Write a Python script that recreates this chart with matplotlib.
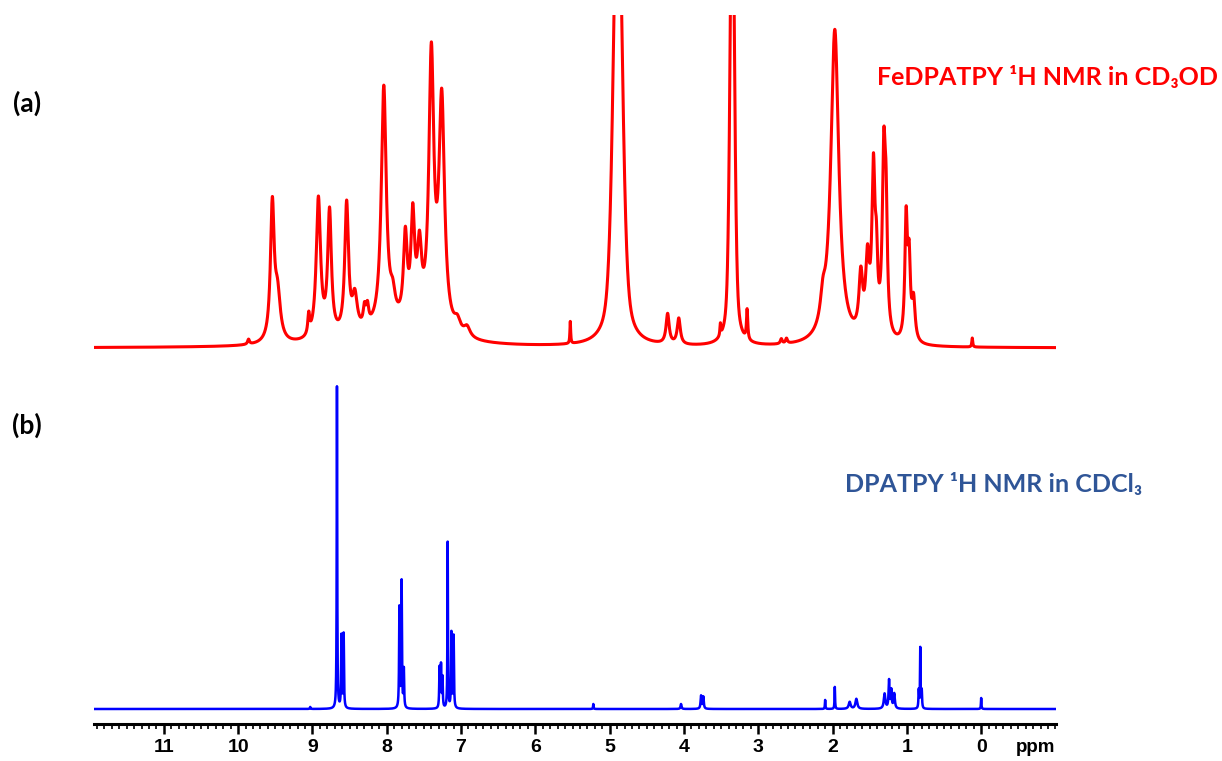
import numpy as np
import matplotlib
matplotlib.use("Agg")
import matplotlib.pyplot as plt
from matplotlib.ticker import MultipleLocator

# FeDPATPY in CD3OD: peak centre (ppm), height, full width (ppm), lorentz fraction
fe_ppm = [9.86, 9.54, 9.47, 9.05, 8.92, 8.77, 8.54, 8.43, 8.30, 8.26, 8.04, 7.92,
          7.75, 7.65, 7.56, 7.40, 7.26, 7.05, 6.92, 7.90, 5.53, 4.89, 4.22, 4.07,
          3.51, 3.35, 3.15, 2.69, 2.62, 2.13, 1.97, 1.62, 1.53, 1.45, 1.41, 1.31,
          1.28, 1.01, 0.97, 0.91, 0.12]
fe_height = [5, 135, 45, 20, 140, 124, 130, 35, 18, 18, 240, 22,
             84, 102, 70, 268, 228, 12, 10, 16, 22, 500, 30, 26,
             12, 500, 30, 5, 5, 25, 315, 58, 72, 160, 60, 176,
             100, 120, 75, 40, 9]
fe_width = [0.03, 0.06, 0.09, 0.03, 0.07, 0.06, 0.06, 0.08, 0.04, 0.04, 0.08, 0.08,
            0.06, 0.06, 0.07, 0.08, 0.09, 0.10, 0.10, 1.2, 0.012, 0.14, 0.05, 0.05,
            0.015, 0.07, 0.02, 0.03, 0.03, 0.08, 0.13, 0.06, 0.06, 0.05, 0.04, 0.05,
            0.04, 0.04, 0.04, 0.05, 0.015]
fe_lorentz = [1, 1, 1, 1, 1, 1, 1, 1, 1, 1, 1, 1,
              1, 1, 1, 1, 1, 1, 1, 1, 1, 0.5, 1, 1,
              1, 0.5, 1, 1, 1, 1, 1, 1, 1, 1, 1, 1,
              1, 1, 1, 1, 1]

# DPATPY in CDCl3
dp_ppm = [9.03, 8.67, 8.61, 8.58, 7.83, 7.80, 7.77, 7.29, 7.27, 7.25, 7.18, 7.13,
          7.10, 5.22, 4.04, 3.77, 3.74, 2.10, 1.97, 1.77, 1.68, 1.30, 1.24, 1.21,
          1.17, 0.84, 0.82, 0.80, 0.00]
dp_height = [2, 322, 72, 74, 100, 126, 38, 40, 42, 30, 166, 75,
             72, 5, 5, 13, 12, 9, 22, 7, 10, 15, 28, 18,
             15, 18, 60, 18, 11]
dp_width = [0.01, 0.008, 0.01, 0.01, 0.01, 0.01, 0.01, 0.01, 0.01, 0.01, 0.008, 0.01,
            0.01, 0.008, 0.015, 0.015, 0.015, 0.008, 0.008, 0.03, 0.03, 0.025, 0.015, 0.015,
            0.02, 0.01, 0.008, 0.01, 0.008]

major_ticks = [11, 10, 9, 8, 7, 6, 5, 4, 3, 2, 1, 0]

x = np.linspace(12.0, -1.05, 13051)


def spectrum(centres, heights, widths, lorentz=None):
    if lorentz is None:
        lorentz = [1] * len(centres)
    y = np.zeros_like(x)
    for c, h, w, eta in zip(centres, heights, widths, lorentz):
        lor = 1 / (1 + (2 * (x - c) / w) ** 2)
        gau = np.exp(-4 * np.log(2) * ((x - c) / w) ** 2)
        y += h * (eta * lor + (1 - eta) * gau)
    return y


fe_y = spectrum(fe_ppm, fe_height, fe_width, fe_lorentz)
dp_y = spectrum(dp_ppm, dp_height, dp_width)

W, H = 1222, 761
fig = plt.figure(figsize=(W / 100, H / 100), dpi=100)
left, right = 94, 1056
xmin, xmax = 11.94, -1.007

# top panel
ax_r = fig.add_axes([left / W, (H - 360) / H, (right - left) / W, 345 / H])
ax_r.plot(x, fe_y, color="#ff0000", lw=2.2)
ax_r.set_xlim(xmin, xmax)
ax_r.set_ylim(-12, 333)
ax_r.axis("off")

# bottom panel
ax_b = fig.add_axes([left / W, (H - 724) / H, (right - left) / W, 349 / H])
ax_b.plot(x, dp_y, color="#0000ff", lw=1.8)
ax_b.set_xlim(xmin, xmax)
ax_b.set_ylim(-15, 334)
for s in ["left", "top", "right"]:
    ax_b.spines[s].set_visible(False)
ax_b.spines["bottom"].set_linewidth(2.2)
ax_b.set_yticks([])
ax_b.set_xticks(major_ticks)
ax_b.xaxis.set_minor_locator(MultipleLocator(0.1))
ax_b.tick_params(axis="x", which="major", length=7, width=1.8, pad=4,
                 direction="out", labelsize=14)
ax_b.tick_params(axis="x", which="minor", length=3.5, width=1.2, direction="out")
for lab in ax_b.get_xticklabels():
    lab.set_fontfamily("Liberation Sans")
    lab.set_fontweight("bold")

fig.text(1036 / W, 1 - 748 / H, "ppm", ha="center", va="center",
         fontsize=13.5, fontweight="bold", family="Liberation Sans")

fam = ["Lato", "DejaVu Sans"]
fig.text(27 / W, 1 - 103 / H, "(a)", ha="center", va="center",
         fontsize=19, fontweight="bold", family=fam)
fig.text(27 / W, 1 - 425 / H, "(b)", ha="center", va="center",
         fontsize=19, fontweight="bold", family=fam)
fig.text(877 / W, 1 - 77 / H, "FeDPATPY \u00b9H NMR in CD\u2083OD", ha="left",
         va="center", fontsize=18, fontweight="bold", color="#ff0000", family=fam)
fig.text(845 / W, 1 - 484 / H, "DPATPY \u00b9H NMR in CDCl\u2083", ha="left",
         va="center", fontsize=18, fontweight="bold", color="#2f5597", family=fam)

fig.savefig("out.png", dpi=100)
